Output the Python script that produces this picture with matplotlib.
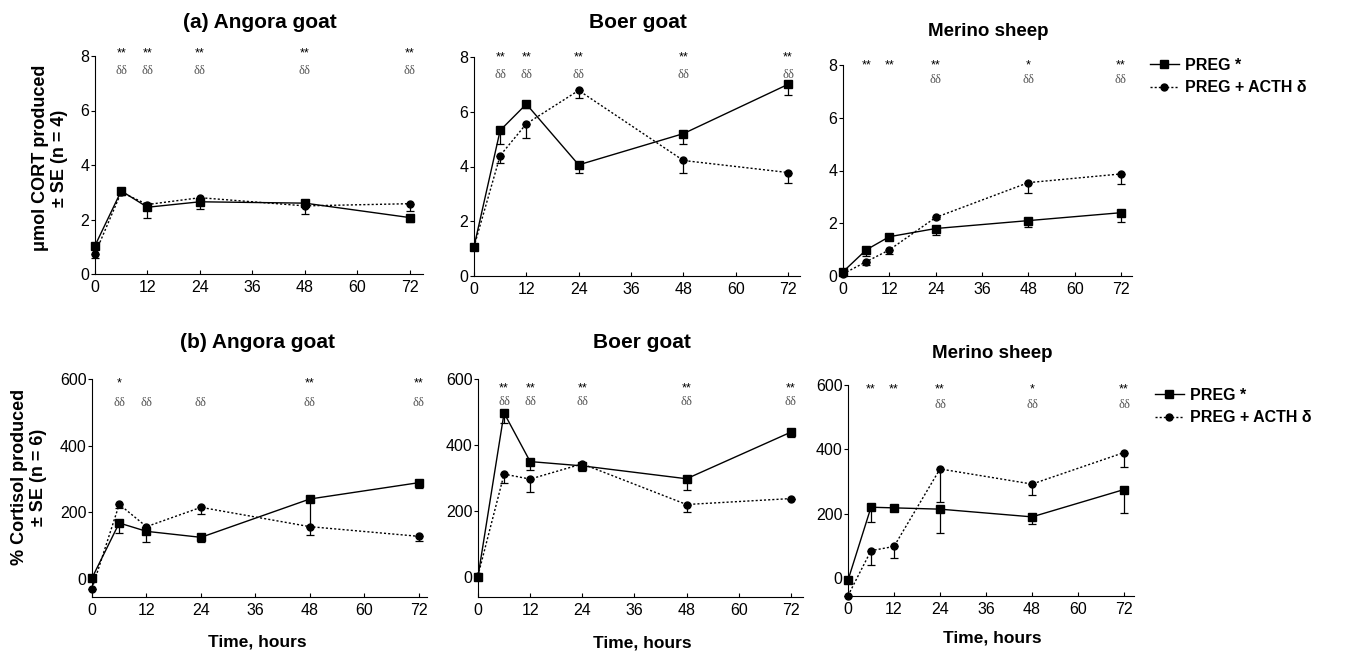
import numpy as np
import matplotlib.pyplot as plt

plt.rcParams['font.family'] = ['Liberation Sans', 'DejaVu Sans']

# sampling times
hours = [0, 6, 12, 24, 48, 72]
sig_hours = [6, 12, 24, 48, 72]

# (a) umol CORT produced
angora_a_preg = [1.04, 3.05, 2.45, 2.65, 2.6, 2.07]
angora_a_preg_se = [0.05, 0.12, 0.4, 0.27, 0.1, 0.18]
angora_a_acth = [0.74, 3.0, 2.55, 2.8, 2.5, 2.58]
angora_a_acth_se = [0.15, 0.1, 0.15, 0.15, 0.3, 0.25]

boer_a_preg = [1.07, 5.32, 6.28, 4.06, 5.2, 7.0]
boer_a_preg_se = [0.05, 0.5, 0.15, 0.3, 0.37, 0.37]
boer_a_acth = [1.07, 4.4, 5.56, 6.78, 4.22, 3.78]
boer_a_acth_se = [0.05, 0.28, 0.52, 0.28, 0.46, 0.37]

merino_a_preg = [0.16, 0.99, 1.49, 1.8, 2.1, 2.4]
merino_a_preg_se = [0.05, 0.25, 0.05, 0.24, 0.23, 0.34]
merino_a_acth = [0.08, 0.54, 0.99, 2.22, 3.54, 3.87]
merino_a_acth_se = [0.03, 0.13, 0.15, 0.05, 0.38, 0.38]

# (b) % cortisol produced
angora_b_preg = [3, 168, 143, 125, 240, 289]
angora_b_preg_se = [5, 30, 33, 13, 85, 17]
angora_b_acth = [-29, 224, 157, 215, 157, 128]
angora_b_acth_se = [0, 10, 20, 20, 25, 15]

boer_b_preg = [2, 497, 350, 337, 298, 439]
boer_b_preg_se = [5, 30, 27, 15, 34, 15]
boer_b_acth = [5, 312, 297, 343, 220, 238]
boer_b_acth_se = [0, 27, 40, 12, 22, 0]

merino_b_preg = [-7, 220, 218, 214, 190, 275]
merino_b_preg_se = [0, 45, 5, 74, 22, 72]
merino_b_acth = [-55, 85, 98, 339, 292, 390]
merino_b_acth_se = [0, 46, 37, 103, 35, 45]

# significance marks
angora_a_stars = ['**', '**', '**', '**', '**']
angora_a_deltas = ['δδ', 'δδ', 'δδ', 'δδ', 'δδ']
boer_a_stars = ['**', '**', '**', '**', '**']
boer_a_deltas = ['δδ', 'δδ', 'δδ', 'δδ', 'δδ']
merino_a_stars = ['**', '**', '**', '*', '**']
merino_a_deltas = ['', '', 'δδ', 'δδ', 'δδ']
angora_b_stars = ['*', '', '', '**', '**']
angora_b_deltas = ['δδ', 'δδ', 'δδ', 'δδ', 'δδ']
boer_b_stars = ['**', '**', '**', '**', '**']
boer_b_deltas = ['δδ', 'δδ', 'δδ', 'δδ', 'δδ']
merino_b_stars = ['**', '**', '**', '*', '**']
merino_b_deltas = ['', '', 'δδ', 'δδ', 'δδ']

W, H = 1372, 653
fig = plt.figure(figsize=(W / 100, H / 100), dpi=100)


def make_ax(x0, x1, ytop, ybot):
    return fig.add_axes([x0 / W, (H - ybot) / H, (x1 - x0) / W, (ybot - ytop) / H])


def draw(ax, preg, preg_se, acth, acth_se, stars, deltas, xmax, ylim, yticks, star_y, delta_y):
    z = np.zeros(len(hours))
    ax.errorbar(hours, acth, yerr=[acth_se, z], fmt='none', ecolor='black',
                elinewidth=0.9, capsize=3, capthick=0.9, clip_on=False)
    ax.errorbar(hours, preg, yerr=[preg_se, z], fmt='none', ecolor='black',
                elinewidth=0.9, capsize=3, capthick=0.9, clip_on=False)
    ax.plot(hours, acth, linestyle=(0, (1.5, 1.5)), color='black', lw=1,
            marker='o', markersize=5, clip_on=False, zorder=3, label='PREG + ACTH δ')
    ax.plot(hours, preg, linestyle='-', color='black', lw=1,
            marker='s', markersize=5.5, clip_on=False, zorder=4, label='PREG *')
    for h, s, d in zip(sig_hours, stars, deltas):
        ax.text(h, star_y, s, ha='center', va='center', fontsize=9)
        ax.text(h, delta_y, d, ha='center', va='center', fontsize=9,
                color='#555555', family='Liberation Serif')
    ax.set_xlim(0, xmax)
    ax.set_ylim(*ylim)
    ax.set_xticks([0, 12, 24, 36, 48, 60, 72])
    ax.set_yticks(yticks)
    ax.spines['top'].set_visible(False)
    ax.spines['right'].set_visible(False)
    ax.tick_params(axis='x', direction='in', length=3, labelsize=11.5, pad=4)
    ax.tick_params(axis='y', direction='out', length=3, labelsize=11.5, pad=1)


a_ticks = [0, 2, 4, 6, 8]
b_ticks = [0, 200, 400, 600]

ax1 = make_ax(95, 423, 56, 274)
draw(ax1, angora_a_preg, angora_a_preg_se, angora_a_acth, angora_a_acth_se,
     angora_a_stars, angora_a_deltas, 75, (0, 8), a_ticks, 8.1, 7.45)
ax2 = make_ax(474, 800, 57, 276)
draw(ax2, boer_a_preg, boer_a_preg_se, boer_a_acth, boer_a_acth_se,
     boer_a_stars, boer_a_deltas, 74.75, (0, 8), a_ticks, 8.0, 7.35)
ax3 = make_ax(843, 1132, 65, 276)
draw(ax3, merino_a_preg, merino_a_preg_se, merino_a_acth, merino_a_acth_se,
     merino_a_stars, merino_a_deltas, 74.85, (0, 8), a_ticks, 8.0, 7.45)

ax4 = make_ax(92, 427, 379, 597)
draw(ax4, angora_b_preg, angora_b_preg_se, angora_b_acth, angora_b_acth_se,
     angora_b_stars, angora_b_deltas, 73.8, (-54, 600), b_ticks, 588, 528)
ax5 = make_ax(478, 803, 379, 597)
draw(ax5, boer_b_preg, boer_b_preg_se, boer_b_acth, boer_b_acth_se,
     boer_b_stars, boer_b_deltas, 74.8, (-60, 600), b_ticks, 572, 530)
ax6 = make_ax(848, 1134, 385, 596)
draw(ax6, merino_b_preg, merino_b_preg_se, merino_b_acth, merino_b_acth_se,
     merino_b_stars, merino_b_deltas, 74.6, (-56, 600), b_ticks, 587, 538)


def ftext(x, y, s, **kw):
    fig.text(x / W, 1 - y / H, s, ha='center', va='center', fontweight='bold', **kw)


ftext(260, 22, '(a) Angora goat', fontsize=15)
ftext(638, 22, 'Boer goat', fontsize=15)
ftext(988, 32, 'Merino sheep', fontsize=13.5)
ftext(257, 343, '(b) Angora goat', fontsize=15)
ftext(642, 343, 'Boer goat', fontsize=15)
ftext(992, 353, 'Merino sheep', fontsize=13.5)
for x, y in [(257, 642), (642, 643), (992, 638)]:
    ftext(x, y, 'Time, hours', fontsize=12.5)
ftext(50, 158, 'μmol CORT produced\n± SE (n = 4)', fontsize=13, rotation=90,
      multialignment='center', linespacing=1.1)
ftext(29, 477, '% Cortisol produced\n± SE (n = 6)', fontsize=13, rotation=90,
      multialignment='center', linespacing=1.1)

for ax, (lx, ly) in [(ax3, (1150, 58)), (ax6, (1155, 388))]:
    handles, labels = ax.get_legend_handles_labels()
    fig.legend(handles[::-1], labels[::-1], loc='upper left',
               bbox_to_anchor=(lx / W, 1 - ly / H), frameon=False,
               prop={'weight': 'bold', 'size': 11.5}, handlelength=1.8,
               handletextpad=0.4, labelspacing=0.45, borderaxespad=0, borderpad=0)

fig.savefig('out.png', dpi=100)
